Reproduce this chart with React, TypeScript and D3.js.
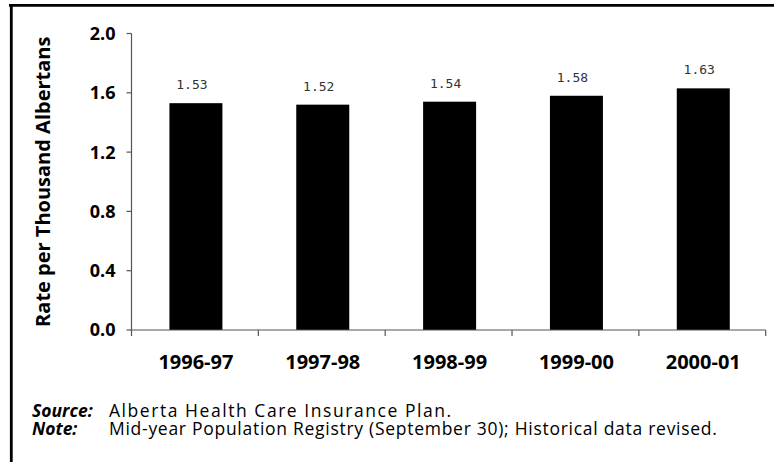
import React from "react";
import * as d3 from "d3";

const categories = ["1996-97", "1997-98", "1998-99", "1999-00", "2000-01"];
const rates = [1.53, 1.52, 1.54, 1.58, 1.63];
const yTicks = [0, 0.4, 0.8, 1.2, 1.6, 2.0];
const yTitle = "Rate per Thousand Albertans";
const sourceText = "Alberta Health Care Insurance Plan.";
const noteText = "Mid-year Population Registry (September 30); Historical data revised.";

const W = 774;
const H = 462;
const plot = { left: 131.5, right: 765.7, top: 33.5, bottom: 330 };
const FONT = "'Open Sans', Lato, sans-serif";
const AXIS = "#555";

export default function App() {
  const x = d3
    .scaleBand<string>()
    .domain(categories)
    .range([plot.left, plot.right])
    .paddingInner(0)
    .paddingOuter(0);
  const y = d3.scaleLinear().domain([0, 2]).range([plot.bottom, plot.top]);
  const barW = 53;
  const bw = x.bandwidth();
  const fmt = d3.format(".1f");

  return (
    <svg
      width={W}
      height={H}
      viewBox={`0 0 ${W} ${H}`}
      style={{ position: "absolute", left: 0, top: 0, display: "block", background: "#fff" }}
    >
      {/* frame: top and left rules */}
      <line x1={9} x2={W} y1={5.3} y2={5.3} stroke="#000" strokeWidth={2.8} />
      <line x1={11.3} x2={11.3} y1={4} y2={H} stroke="#000" strokeWidth={2.8} />

      {/* bars */}
      {categories.map((c, i) => {
        const cx = (x(c) as number) + bw / 2 + 1;
        return (
          <g key={c}>
            <rect
              x={cx - barW / 2}
              y={y(rates[i])}
              width={barW}
              height={y(0) - y(rates[i])}
              fill="#000"
            />
            <text
              x={cx - 4}
              y={y(rates[i]) - 14}
              textAnchor="middle"
              fontFamily="'DejaVu Sans Mono', 'Liberation Mono', monospace"
              fontSize={13}
              fill="#333"
            >
              {rates[i].toFixed(2)}
            </text>
          </g>
        );
      })}

      {/* y axis */}
      <line x1={plot.left} x2={plot.left} y1={plot.top} y2={plot.bottom} stroke={AXIS} strokeWidth={1.2} />
      {yTicks.map((t) => (
        <g key={t}>
          <line x1={plot.left - 5} x2={plot.left} y1={y(t)} y2={y(t)} stroke={AXIS} strokeWidth={1.2} />
          <text
            x={plot.left - 16}
            y={y(t)}
            dy="0.36em"
            textAnchor="end"
            fontFamily={FONT}
            fontWeight={700}
            fontSize={18}
            fill="#000"
          >
            {fmt(t)}
          </text>
        </g>
      ))}

      {/* x axis */}
      <line x1={plot.left} x2={plot.right} y1={plot.bottom} y2={plot.bottom} stroke={AXIS} strokeWidth={1.2} />
      {[...categories.map((c) => x(c) as number), plot.right].map((tx, i) => (
        <line key={i} x1={tx} x2={tx} y1={plot.bottom} y2={plot.bottom + 6} stroke={AXIS} strokeWidth={1.2} />
      ))}
      {categories.map((c) => (
        <text
          key={c}
          x={(x(c) as number) + bw / 2 + 1}
          y={369}
          textAnchor="middle"
          fontFamily={FONT}
          fontWeight={700}
          fontSize={20}
          fill="#000"
        >
          {c}
        </text>
      ))}

      {/* y axis title */}
      <text
        transform={`translate(50, ${(plot.top + plot.bottom) / 2}) rotate(-90)`}
        textAnchor="middle"
        fontFamily={FONT}
        fontWeight={700}
        fontSize={20}
        fill="#000"
      >
        {yTitle}
      </text>

      {/* source and note */}
      <g fontFamily={FONT} fontSize={17.5} fill="#000">
        <text x={32} y={417} fontWeight={700} fontStyle="italic">Source:</text>
        <text x={109} y={417} letterSpacing={1.55}>{sourceText}</text>
        <text x={32} y={435} fontWeight={700} fontStyle="italic">Note:</text>
        <text x={109} y={435} letterSpacing={0.72}>{noteText}</text>
      </g>
    </svg>
  );
}
